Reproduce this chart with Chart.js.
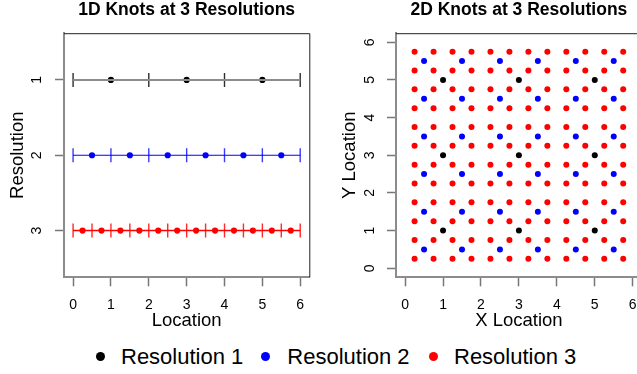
<!DOCTYPE html>
<html>
<head>
<meta charset="utf-8">
<script src="https://cdn.jsdelivr.net/npm/chart.js@4.4.1/dist/chart.umd.min.js"></script>
<style>
  html, body { margin: 0; padding: 0; background: #fff; overflow: hidden; width: 637px; height: 374px; }
  #wrap { position: relative; width: 637px; height: 374px; overflow: hidden; font-family: "Liberation Sans", Arial, sans-serif; }
  canvas { position: absolute; top: 0; }
  #c1 { left: 0; }
  #c2 { left: 330px; }
  .legend-item { position: absolute; top: 345.7px; font-size: 22px; line-height: 22px; white-space: nowrap; color: #000; }
  .dot { position: absolute; top: 352.2px; width: 9px; height: 9px; border-radius: 50%; }
</style>
</head>
<body>
<div id="wrap">
  <canvas id="c1" width="330" height="340"></canvas>
  <canvas id="c2" width="320" height="340"></canvas>
  <div id="legend"></div>
</div>
<script>
// Knot locations along one dimension, by resolution
const resolutionLevels = [1, 2, 3];
const res1Knots = [1, 3, 5];
const res2Knots = [0.5, 1.5, 2.5, 3.5, 4.5, 5.5];
const res3Knots = [0.25, 0.75, 1.25, 1.75, 2.25, 2.75, 3.25, 3.75, 4.25, 4.75, 5.25, 5.75];
// Cell boundaries marked along each 1D line
const res1Edges = [0, 2, 4, 6];
const res2Edges = [0, 1, 2, 3, 4, 5, 6];
const res3Edges = [0, 0.5, 1, 1.5, 2, 2.5, 3, 3.5, 4, 4.5, 5, 5.5, 6];
const locationTicks = [0, 1, 2, 3, 4, 5, 6];
const seriesLabels = ['Resolution 1', 'Resolution 2', 'Resolution 3'];

const FONT = '"Liberation Sans", Arial, sans-serif';
const knotColors = ['#000000', '#0000ff', '#ff0000'];
const lineColors = ['#8c8c8c', '#0000ff', '#ff0000'];
const edgeColors = ['#2e2e2e', '#3a3aff', '#ff2a2a'];
const lineWidths = [2, 1.2, 1.5];

const levels = [
  { level: resolutionLevels[0], knots: res1Knots, edges: res1Edges },
  { level: resolutionLevels[1], knots: res2Knots, edges: res2Edges },
  { level: resolutionLevels[2], knots: res3Knots, edges: res3Edges }
];

// Dark frame along the top and right of the plotting region
const framePlugin = {
  id: 'frame',
  afterDatasetsDraw(chart) {
    const { ctx, chartArea: { left, top, right, bottom } } = chart;
    ctx.save();
    ctx.strokeStyle = '#222';
    ctx.lineWidth = 1;
    ctx.beginPath();
    ctx.moveTo(left, top + 0.5);
    ctx.lineTo(right + 0.5, top + 0.5);
    ctx.lineTo(right + 0.5, bottom);
    ctx.stroke();
    ctx.restore();
  }
};

function fixedTicks(values) {
  return function (scale) { scale.ticks = values.map(v => ({ value: v })); };
}

function panelOptions(cfg) {
  return {
    responsive: false,
    animation: false,
    layout: { padding: { left: 0, top: 0, right: cfg.padRight, bottom: cfg.padBottom } },
    plugins: {
      legend: { display: false },
      tooltip: { enabled: false },
      title: {
        display: true, text: cfg.title, fullSize: false, color: '#000',
        font: { family: FONT, size: 17.5, weight: 'bold', lineHeight: 1.2 },
        padding: { top: 0, bottom: 12.2 }
      }
    },
    scales: {
      x: {
        type: 'linear', position: 'bottom', min: -0.24, max: 6.24,
        afterBuildTicks: fixedTicks(locationTicks),
        afterFit(scale) { scale.height = cfg.xAxisHeight; },
        grid: { drawOnChartArea: false, drawTicks: true, tickLength: 9, tickColor: '#777', tickWidth: 1.5 },
        border: { display: true, color: '#8c8c8c', width: 2 },
        ticks: { color: '#000', padding: 10.8, maxRotation: 0, autoSkip: false,
          font: { family: FONT, size: 14, lineHeight: 1.2 }, callback: v => String(v) },
        title: { display: true, text: cfg.xTitle, color: '#000',
          font: { family: FONT, size: 18.5, lineHeight: 1.2 }, padding: { top: 0, bottom: 0 } }
      },
      y: {
        type: 'linear', position: 'left', min: cfg.yMin, max: cfg.yMax, reverse: cfg.reverse,
        afterBuildTicks: fixedTicks(cfg.yTicks),
        afterFit(scale) { scale.width = cfg.plotLeft; },
        grid: { drawOnChartArea: false, drawTicks: true, tickLength: 9, tickColor: '#777', tickWidth: 1.5 },
        border: { display: true, color: '#8c8c8c', width: 2 },
        ticks: { color: '#000', padding: cfg.yTickPad, minRotation: 90, maxRotation: 90, crossAlign: 'center',
          autoSkip: false, font: { family: FONT, size: 14, lineHeight: 1.2 }, callback: v => String(v) },
        title: { display: true, text: cfg.yTitle, color: '#000',
          font: { family: FONT, size: 18.5, lineHeight: 1.2 }, padding: { top: cfg.yTitlePad, bottom: 0 } }
      }
    }
  };
}

// ---- 1D panel: one line per resolution with knots and cell boundaries
const oneDDatasets = [];
levels.forEach((lv, i) => {
  oneDDatasets.push({
    label: seriesLabels[i] + ' line',
    data: [{ x: lv.edges[0], y: lv.level }, { x: lv.edges[lv.edges.length - 1], y: lv.level }],
    showLine: true, borderColor: lineColors[i], borderWidth: lineWidths[i], pointRadius: 0
  });
  oneDDatasets.push({
    label: seriesLabels[i] + ' boundaries',
    data: lv.edges.map(x => ({ x, y: lv.level })),
    showLine: false, pointStyle: 'line', rotation: 90, pointRadius: 7,
    borderColor: edgeColors[i], borderWidth: 1.4
  });
  oneDDatasets.push({
    label: seriesLabels[i],
    data: lv.knots.map(x => ({ x, y: lv.level })),
    showLine: false, pointStyle: 'circle', pointRadius: 3.1,
    backgroundColor: knotColors[i], borderWidth: 0
  });
});

new Chart(document.getElementById('c1'), {
  type: 'scatter',
  data: { datasets: oneDDatasets },
  options: panelOptions({
    title: '1D Knots at 3 Resolutions', xTitle: 'Location', yTitle: 'Resolution',
    yMin: 0.38, yMax: 3.62, reverse: true, yTicks: resolutionLevels,
    plotLeft: 64, padRight: 330 - 309.3, padBottom: 340 - 332.1, xAxisHeight: 332.1 - 277.3,
    yTickPad: 13.6, yTitlePad: 6.4
  }),
  plugins: [framePlugin]
});

// ---- 2D panel: tensor grid of the same knots
const twoDDatasets = levels.map((lv, i) => ({
  label: seriesLabels[i],
  data: lv.knots.flatMap(y => lv.knots.map(x => ({ x, y }))),
  showLine: false, pointStyle: 'circle', pointRadius: 3,
  backgroundColor: knotColors[i], borderWidth: 0
})).reverse();

new Chart(document.getElementById('c2'), {
  type: 'scatter',
  data: { datasets: twoDDatasets },
  options: panelOptions({
    title: '2D Knots at 3 Resolutions', xTitle: 'X Location', yTitle: 'Y Location',
    yMin: -0.24, yMax: 6.24, reverse: false, yTicks: locationTicks,
    plotLeft: 66, padRight: 320 - 311.8, padBottom: 340 - 332.1, xAxisHeight: 332.1 - 277.3,
    yTickPad: 12.6, yTitlePad: 8.9
  }),
  plugins: [framePlugin]
});

// ---- Shared legend below both panels
const legendEl = document.getElementById('legend');
const dotCenters = [100, 265.7, 433.3];
const textLefts = [121, 287.3, 454];
seriesLabels.forEach((name, i) => {
  const dot = document.createElement('div');
  dot.className = 'dot';
  dot.style.left = (dotCenters[i] - 4.5) + 'px';
  dot.style.background = knotColors[i];
  legendEl.appendChild(dot);
  const txt = document.createElement('div');
  txt.className = 'legend-item';
  txt.style.left = textLefts[i] + 'px';
  txt.textContent = name;
  legendEl.appendChild(txt);
});
</script>
</body>
</html>
